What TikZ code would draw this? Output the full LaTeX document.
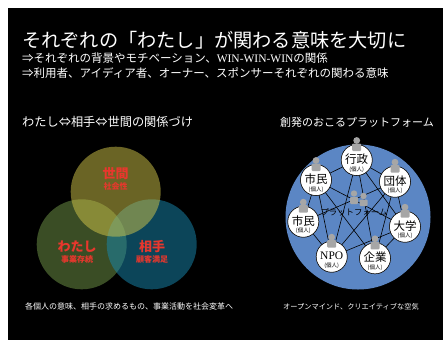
\documentclass[tikz,border=0pt]{standalone}
\usepackage{fontspec}
\setmainfont{Noto Sans CJK JP}
\newfontfamily\serifw{Liberation Serif}
\begin{document}
\begin{tikzpicture}[x=1pt,y=-1pt,
  txt/.style={inner sep=0pt,anchor=west,text=white},
  redlbl/.style={inner sep=0pt,text=labred,font=\fontsize{13}{13}\selectfont\bfseries},
  redsub/.style={inner sep=0pt,text=labred,font=\fontsize{8}{8}\selectfont\bfseries},
  member/.style={circle,draw=black,line width=0.5pt,fill=white,minimum size=31pt,inner sep=0pt},
  mname/.style={inner sep=0pt,font=\fontsize{11.5}{12}\selectfont},
  msub/.style={inner sep=0pt,font=\fontsize{5.5}{6}\selectfont},
  link/.style={draw=black,line width=0.6pt},
  persongray/.style={fill=icongray,draw=none}
]
\definecolor{labred}{HTML}{E8372D}
\definecolor{icongray}{HTML}{A6A6A6}
\definecolor{platblue}{HTML}{5B86C4}
\definecolor{cyel}{RGB}{212,200,74}
\definecolor{cgrn}{RGB}{116,154,74}
\definecolor{cblu}{RGB}{24,138,178}
\useasboundingbox (0,0) rectangle (443,340);
\fill[white] (0,0) rectangle (443,340);
\fill[black] (8,8) rectangle (443,340);

% titles
\node[txt,font=\fontsize{19.2}{20}\selectfont] (title) at (22,40) {それぞれの「わたし」が関わる意味を大切に};
\node[txt,font=\fontsize{11.5}{12}\selectfont] (line2) at (22,58) {⇒それぞれの背景やモチベーション、{\serifw WIN-WIN-WIN}の関係};
\node[txt,font=\fontsize{11.5}{12}\selectfont] (line3) at (22,73) {⇒利用者、アイディア者、オーナー、スポンサーそれぞれの関わる意味};

% left section
\node[txt,font=\fontsize{12.2}{13}\selectfont] (lsub) at (22,122) {わたし⇔相手⇔世間の関係づけ};
\fill[cgrn,opacity=0.5] (81.7,244.3) circle (45);
\fill[cblu,opacity=0.5] (151.7,244.3) circle (45);
\fill[cyel,opacity=0.5] (115.7,191.7) circle (45);
\node[redlbl] (seken) at (115.7,173.3) {世間};
\node[redsub] (shakai) at (115.7,186) {社会性};
\node[redlbl] (watashi) at (77,246.7) {わたし};
\node[redsub] (jigyo) at (77,259.5) {事業存続};
\node[redlbl] (aite) at (152,246.7) {相手};
\node[redsub] (kokyaku) at (152,259.5) {顧客満足};
\node[txt,font=\fontsize{8}{8}\selectfont] (lbot) at (25,306) {各個人の意味、相手の求めるもの、事業活動を社会変革へ};

% right section
\node[txt,font=\fontsize{11}{12}\selectfont] (rsub) at (280,122.5) {創発のおこるプラットフォーム};
\fill[platblue] (358,217) circle (72.5);

\node[member] (n1) at (316,180) {};
\node[member] (n2) at (356.7,160) {};
\node[member] (n3) at (395,181.7) {};
\node[member] (n4) at (303.3,221.7) {};
\node[member] (n5) at (405,226.7) {};
\node[member] (n6) at (331.7,256.7) {};
\node[member] (n7) at (375,258.3) {};

\begin{scope}[on background layer/.style={}]
\end{scope}

% links are drawn, then platform label, then nodes redrawn on top
\draw[link] (n1.center) -- (n2.center);
\draw[link] (n2.center) -- (n3.center);
\draw[link] (n1.center) -- (n4.center);
\draw[link] (n1.center) -- (n5.center);
\draw[link] (n1.center) -- (n6.center);
\draw[link] (n1.center) -- (n7.center);
\draw[link] (n2.center) -- (n6.center);
\draw[link] (n2.center) -- (n5.center);
\draw[link] (n2.center) -- (n7.center);
\draw[link] (n3.center) -- (n4.center);
\draw[link] (n3.center) -- (n6.center);
\draw[link] (n3.center) -- (n7.center);
\draw[link] (n3.center) -- (n5.center);
\draw[link] (n4.center) -- (n6.center);
\draw[link] (n6.center) -- (n5.center);
\draw[link] (n7.center) -- (n5.center);

\node[inner sep=0pt,font=\fontsize{8.4}{9}\selectfont,text=black] (plat) at (354,212) {プラットフォーム};
% platform people
\fill[persongray] (354,193.5) circle (3.2);
\fill[persongray,rounded corners=1pt] (350,197) rectangle (358,204);
\fill[persongray] (363.5,196) circle (3.2);
\fill[persongray,rounded corners=1pt] (359.5,199.5) rectangle (367.5,206);

\foreach \n in {n1,n2,n3,n4,n5,n6,n7}{
  \fill[white,draw=black,line width=0.5pt] (\n.center) circle (15.5);
  \fill[persongray] ([yshift=19.5pt]\n.center) circle (3.4);
  \fill[persongray,rounded corners=1pt] ([xshift=-4.5pt,yshift=16.5pt]\n.center) rectangle ([xshift=4.5pt,yshift=9pt]\n.center);
}
\node[mname] (t1) at ([yshift=1pt]n1.center) {市民};
\node[mname] (t2) at ([yshift=1pt]n2.center) {行政};
\node[mname] (t3) at ([yshift=1pt]n3.center) {団体};
\node[mname] (t4) at ([yshift=1pt]n4.center) {市民};
\node[mname] (t5) at ([yshift=1pt]n5.center) {大学};
\node[mname,font=\fontsize{11.5}{12}\selectfont\serifw] (t6) at ([yshift=1pt]n6.center) {NPO};
\node[mname] (t7) at ([yshift=1pt]n7.center) {企業};
\foreach \n/\m in {n1/s1,n2/s2,n3/s3,n4/s4,n5/s5,n6/s6,n7/s7}{
  \node[msub] (\m) at ([yshift=-9.5pt]\n.center) {(個人)};
}

\node[txt,font=\fontsize{7.2}{8}\selectfont] (rbot) at (283,306.5) {オープンマインド、クリエイティブな空気};
\end{tikzpicture}
\end{document}
